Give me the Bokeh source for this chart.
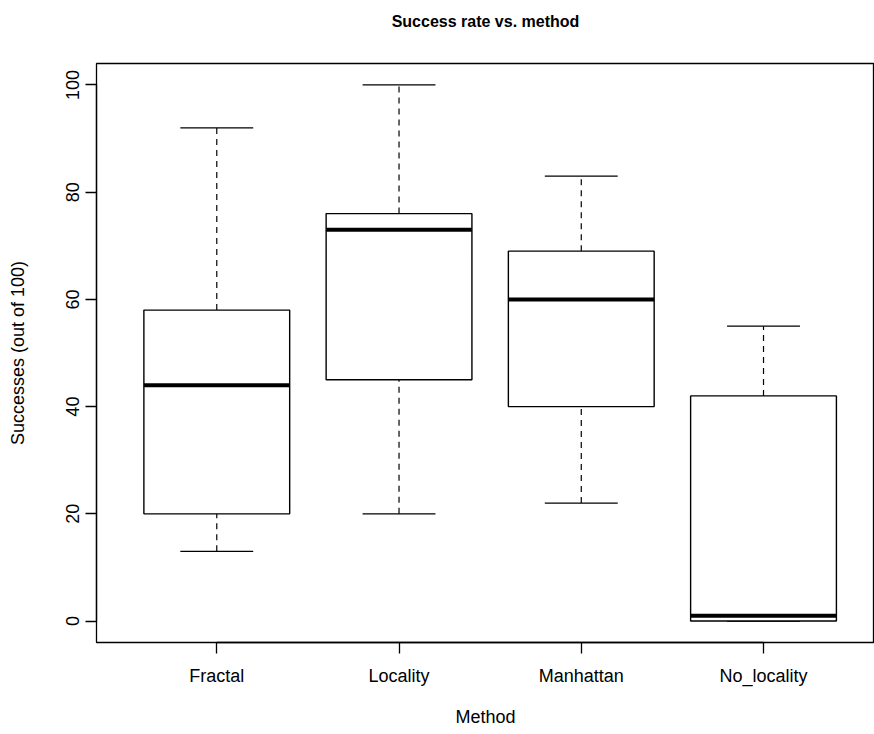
from bokeh.plotting import figure
from bokeh.models import FixedTicker, Range1d, LinearAxis
from bokeh.embed import file_html
from bokeh.resources import INLINE

methods = ["Fractal", "Locality", "Manhattan", "No_locality"]
positions = [1, 2, 3, 4]
lower_whisker = [13, 20, 22, 0]
q1 = [20, 45, 40, 0]
median = [44, 73, 60, 1]
q3 = [58, 76, 69, 42]
upper_whisker = [92, 100, 83, 55]
y_ticks = [0, 20, 40, 60, 80, 100]
title_text = "Success rate vs. method"

FONT = "Liberation Sans"
BOX_W = 0.8
CAP_W = 0.4

p = figure(width=874, height=734, output_backend="svg", toolbar_location=None,
           x_range=Range1d(0.34, 4.609), y_range=Range1d(-4, 104),
           min_border_left=96, min_border_right=0, min_border_top=63, min_border_bottom=92)
p.grid.visible = False
p.outline_line_color = "black"
p.outline_line_width = 1.3
p.background_fill_color = "white"
p.border_fill_color = "white"

# title: label of an empty axis above the frame, centred on the full plot region
title_axis = LinearAxis(ticker=FixedTicker(ticks=[]), bounds=(0.391, 4.609),
                        axis_line_color=None, major_tick_line_color=None,
                        minor_tick_line_color=None, major_label_text_font_size="0px",
                        axis_label=title_text, axis_label_text_font=FONT,
                        axis_label_text_font_size="16px", axis_label_text_font_style="bold",
                        axis_label_text_color="black", axis_label_standoff=34)
p.add_layout(title_axis, "above")

# whiskers (dashed)
p.segment(x0=positions, y0=q3, x1=positions, y1=upper_whisker,
          line_color="black", line_dash="6 5", line_width=1.2)
p.segment(x0=positions, y0=lower_whisker, x1=positions, y1=q1,
          line_color="black", line_dash="6 5", line_width=1.2)
# caps
p.segment(x0=[x - CAP_W / 2 for x in positions], y0=upper_whisker,
          x1=[x + CAP_W / 2 for x in positions], y1=upper_whisker,
          line_color="black", line_width=1.3)
p.segment(x0=[x - CAP_W / 2 for x in positions], y0=lower_whisker,
          x1=[x + CAP_W / 2 for x in positions], y1=lower_whisker,
          line_color="black", line_width=1.3)
# boxes
p.quad(left=[x - BOX_W / 2 for x in positions], right=[x + BOX_W / 2 for x in positions],
       bottom=q1, top=q3, fill_color="white", line_color="black", line_width=1.4)
# medians
p.segment(x0=[x - BOX_W / 2 for x in positions], y0=median,
          x1=[x + BOX_W / 2 for x in positions], y1=median,
          line_color="black", line_width=4)

# axes
xa = p.below[0]
xa.ticker = FixedTicker(ticks=positions)
xa.major_label_overrides = {pos: m for pos, m in zip(positions, methods)}
xa.axis_label = "Method"
xa.bounds = (1, 4)
ya = p.left[0]
ya.ticker = FixedTicker(ticks=y_ticks)
ya.axis_label = "Successes (out of 100)"
ya.major_label_orientation = "vertical"
ya.bounds = (0, 100)

for ax in (xa, ya):
    ax.minor_tick_line_color = None
    ax.major_tick_in = 0
    ax.major_tick_out = 11
    ax.major_tick_line_color = "black"
    ax.major_tick_line_width = 1.3
    ax.axis_line_color = "black"
    ax.axis_line_width = 1.3
    ax.major_label_text_font = FONT
    ax.major_label_text_font_size = "18px"
    ax.major_label_text_color = "black"
    ax.axis_label_text_font = FONT
    ax.axis_label_text_font_size = "18px"
    ax.axis_label_text_font_style = "normal"
    ax.axis_label_text_color = "black"

xa.major_label_standoff = 12
xa.axis_label_standoff = 18
ya.major_label_standoff = 6
ya.axis_label_standoff = 36

open("out.html", "w").write(file_html(p, INLINE))
